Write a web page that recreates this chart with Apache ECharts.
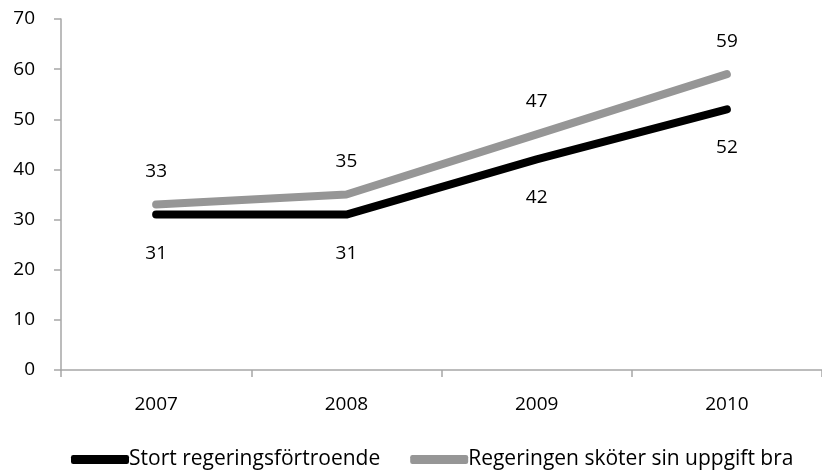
<!DOCTYPE html>
<html>
<head>
<meta charset="utf-8">
<script src="https://cdn.jsdelivr.net/npm/echarts@6/dist/echarts.min.js"></script>
<style>
  html, body { margin: 0; padding: 0; background: #fff; }
  #chart { width: 822px; height: 470px; }
</style>
</head>
<body>
<div id="chart"></div>
<script>
  const years = ['2007', '2008', '2009', '2010']
  const stortFortroende = [31, 31, 42, 52]
  const skoterBra = [33, 35, 47, 59]
  const yTicks = { min: 0, max: 70, interval: 10 }

  const font = '"Open Sans", sans-serif'
  const chart = echarts.init(document.getElementById('chart'), null, { renderer: 'canvas' })

  chart.setOption({
    animation: false,
    textStyle: { fontFamily: font },
    grid: { left: 61, right: -9, top: 19, bottom: 100 },
    legend: {
      bottom: -5, left: 66,
      itemWidth: 58, itemHeight: 9, itemGap: 30,
      icon: 'roundRect',
      textStyle: { fontSize: 21, color: '#000', fontFamily: font, padding: [0, 0, 0, -5] },
      data: ['Stort regeringsförtroende', 'Regeringen sköter sin uppgift bra'],
    },
    xAxis: {
      type: 'category', data: years, boundaryGap: true,
      axisLine: { lineStyle: { color: '#a6a6a6', width: 1.5 } },
      axisTick: { show: true, length: 7, lineStyle: { color: '#a6a6a6', width: 1.5 } },
      axisLabel: { color: '#000', fontSize: 19, margin: 25 },
    },
    yAxis: {
      type: 'value', ...yTicks,
      axisLine: { show: true, lineStyle: { color: '#a6a6a6', width: 1.5 } },
      axisTick: { show: true, length: 7, lineStyle: { color: '#a6a6a6', width: 1.5 } },
      splitLine: { show: false },
      axisLabel: { color: '#000', fontSize: 19, margin: 26 },
    },
    series: [
      {
        name: 'Stort regeringsförtroende', type: 'line', data: stortFortroende,
        symbol: 'circle', symbolSize: 0.1, color: '#000',
        lineStyle: { width: 8, color: '#000', cap: 'round', join: 'round' },
        label: { show: true, position: 'bottom', distance: 29, color: '#000', fontSize: 19 },
      },
      {
        name: 'Regeringen sköter sin uppgift bra', type: 'line', data: skoterBra,
        symbol: 'circle', symbolSize: 0.1, color: '#969696',
        lineStyle: { width: 8, color: '#969696', cap: 'round', join: 'round' },
        label: { show: true, position: 'top', distance: 23, color: '#000', fontSize: 19 },
      },
    ],
  })
</script>
</body>
</html>
